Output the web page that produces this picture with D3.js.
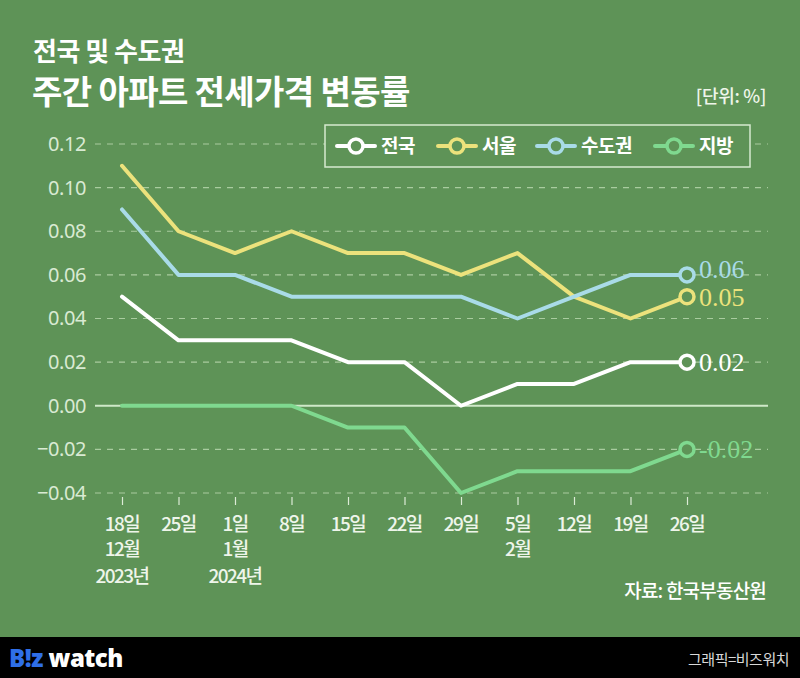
<!DOCTYPE html>
<html>
<head>
<meta charset="utf-8">
<title>주간 아파트 전세가격 변동률</title>
<style>
  body { margin: 0; background: #5e9357; }
  svg { display: block; }
</style>
</head>
<body>
<script src="https://d3js.org/d3.v7.min.js"></script>
<script>
// weekly data, 2023-12-18 .. 2024-02-26
var days   = ["18일", "25일", "1일", "8일", "15일", "22일", "29일", "5일", "12일", "19일", "26일"];
var months = ["12월", "", "1월", "", "", "", "", "2월", "", "", ""];
var years  = ["2023년", "", "2024년", "", "", "", "", "", "", "", ""];

var nationwide = [0.05, 0.03, 0.03, 0.03, 0.02, 0.02, 0.00, 0.01, 0.01, 0.02, 0.02];
var seoul      = [0.11, 0.08, 0.07, 0.08, 0.07, 0.07, 0.06, 0.07, 0.05, 0.04, 0.05];
var capital    = [0.09, 0.06, 0.06, 0.05, 0.05, 0.05, 0.05, 0.04, 0.05, 0.06, 0.06];
var regions    = [0.00, 0.00, 0.00, 0.00, -0.01, -0.01, -0.04, -0.03, -0.03, -0.03, -0.02];

var yTicks = [-0.04, -0.02, 0.00, 0.02, 0.04, 0.06, 0.08, 0.10, 0.12];

var series = [
  {name: "전국",   values: nationwide, color: "#ffffff"},
  {name: "서울",   values: seoul,      color: "#ece27c"},
  {name: "수도권", values: capital,    color: "#a9dbe8"},
  {name: "지방",   values: regions,    color: "#7fd98f"}
];

var W = 800, H = 678;
var bg = "#5e9357";
var kr = "'Noto Sans CJK KR', 'Noto Sans', sans-serif";

var svg = d3.select("body").append("svg")
    .attr("width", W).attr("height", H);

svg.append("rect").attr("width", W).attr("height", H).attr("fill", bg);

// title
svg.append("text").attr("x", 33).attr("y", 61)
    .attr("font-family", kr).attr("font-weight", 700).attr("font-size", 26)
    .attr("fill", "#ffffff").attr("letter-spacing", -0.5).text("전국 및 수도권");
svg.append("text").attr("x", 32).attr("y", 104)
    .attr("font-family", kr).attr("font-weight", 700).attr("font-size", 33)
    .attr("fill", "#ffffff").attr("letter-spacing", -0.6).text("주간 아파트 전세가격 변동률");
svg.append("text").attr("x", 766).attr("y", 103).attr("text-anchor", "end")
    .attr("font-family", kr).attr("font-weight", 500).attr("font-size", 18)
    .attr("fill", "#eef5ea").attr("letter-spacing", -0.3).text("[단위: %]");

var x = d3.scalePoint().domain(d3.range(days.length)).range([122, 687]);
var y = d3.scaleLinear().domain([-0.04, 0.12]).range([493, 144]);

// grid
var grid = svg.append("g");
grid.selectAll("line").data(yTicks).enter().append("line")
    .attr("x1", 95).attr("x2", 768)
    .attr("y1", function(d){ return y(d); })
    .attr("y2", function(d){ return y(d); })
    .attr("stroke", function(d){ return d === 0 ? "#cfe8c8" : "#a9cc9f"; })
    .attr("stroke-width", function(d){ return d === 0 ? 2 : 1.2; })
    .attr("stroke-dasharray", function(d){ return d === 0 ? null : "6,6"; });

// y axis labels
var yAxis = svg.append("g").attr("transform", "translate(86,0)")
    .call(d3.axisLeft(y).tickValues(yTicks).tickSize(0).tickPadding(0)
        .tickFormat(function(d){ return d < 0 ? "−" + d3.format(".2f")(-d) : d3.format(".2f")(d); }));
yAxis.select(".domain").remove();
yAxis.selectAll("text")
    .attr("font-family", "'Noto Sans', sans-serif").attr("font-size", 20)
    .attr("fill", "#d9ead3").attr("letter-spacing", -0.4);

// x axis
var xAxis = svg.append("g").attr("transform", "translate(0,493)")
    .call(d3.axisBottom(x).tickSize(0).tickFormat(""));
xAxis.select(".domain").remove();
xAxis.selectAll(".tick").append("line")
    .attr("y1", 4).attr("y2", 12).attr("stroke", "#dcebd6").attr("stroke-width", 1.2);

var labelRows = [[days, 531], [months, 556], [years, 583]];
labelRows.forEach(function(row){
  svg.append("g").selectAll("text").data(row[0]).enter().append("text")
      .attr("x", function(d, i){ return x(i); })
      .attr("y", row[1])
      .attr("text-anchor", "middle")
      .attr("font-family", kr).attr("font-size", 19).attr("font-weight", 500)
      .attr("letter-spacing", -1.6)
      .attr("fill", "#eef5ea")
      .text(function(d){ return d; });
});

// lines
var line = d3.line()
    .x(function(d, i){ return x(i); })
    .y(function(d){ return y(d); });

var last = days.length - 1;
series.forEach(function(s){
  svg.append("path").datum(s.values)
      .attr("d", line)
      .attr("fill", "none")
      .attr("stroke", s.color)
      .attr("stroke-width", 4)
      .attr("stroke-linejoin", "round")
      .attr("stroke-linecap", "round");
});

// end labels: baseline below the point, nudge upward when two labels collide
var ends = series.map(function(s){
  return {s: s, v: s.values[last], base: y(s.values[last]) + 9};
}).sort(function(a, b){ return b.base - a.base; });
for (var i = 1; i < ends.length; i++) {
  if (ends[i - 1].base - ends[i].base < 28) ends[i].base = ends[i - 1].base - 28;
}
ends.forEach(function(e){
  svg.append("circle")
      .attr("cx", x(last)).attr("cy", y(e.v)).attr("r", 7)
      .attr("fill", bg).attr("stroke", e.s.color).attr("stroke-width", 3.5);
  svg.append("text")
      .attr("x", x(last) + 12).attr("y", e.base)
      .attr("font-family", "'Liberation Serif', serif").attr("font-size", 26)
      .attr("fill", e.s.color)
      .text(e.v < 0 ? "-" + d3.format(".2f")(-e.v) : d3.format(".2f")(e.v));
});

// legend
var legend = svg.append("g");
legend.append("rect").attr("x", 325).attr("y", 125).attr("width", 425).attr("height", 42)
    .attr("fill", bg).attr("stroke", "#d6ead0").attr("stroke-width", 1.5);
var legendX = [337, 438, 537, 655];
series.forEach(function(s, i){
  var g = legend.append("g").attr("transform", "translate(" + legendX[i] + ",146)");
  g.append("line").attr("x1", 0).attr("x2", 38).attr("stroke", s.color).attr("stroke-width", 4)
      .attr("stroke-linecap", "round");
  g.append("circle").attr("cx", 19).attr("r", 7).attr("fill", bg)
      .attr("stroke", s.color).attr("stroke-width", 3.5);
  g.append("text").attr("x", 44).attr("y", 7)
      .attr("font-family", kr).attr("font-weight", 700).attr("font-size", 19)
      .attr("fill", "#ffffff").attr("letter-spacing", -0.5).text(s.name);
});

// source
svg.append("text").attr("x", 766).attr("y", 598).attr("text-anchor", "end")
    .attr("font-family", kr).attr("font-weight", 500).attr("font-size", 19)
    .attr("fill", "#ffffff").attr("letter-spacing", -0.8).text("자료: 한국부동산원");

// footer
svg.append("rect").attr("x", 0).attr("y", 637).attr("width", W).attr("height", H - 637).attr("fill", "#000000");
var logo = svg.append("text").attr("x", 9).attr("y", 667)
    .attr("font-family", "'Open Sans', sans-serif").attr("font-weight", 800).attr("font-size", 24)
    .attr("letter-spacing", -0.5);
logo.append("tspan").attr("fill", "#2f6fe8").text("B!z");
logo.append("tspan").attr("fill", "#ffffff").text(" watch");
svg.append("text").attr("x", 789).attr("y", 665).attr("text-anchor", "end")
    .attr("font-family", kr).attr("font-size", 15)
    .attr("fill", "#d8d8d8").attr("letter-spacing", -0.5).text("그래픽=비즈워치");
</script>
</body>
</html>
